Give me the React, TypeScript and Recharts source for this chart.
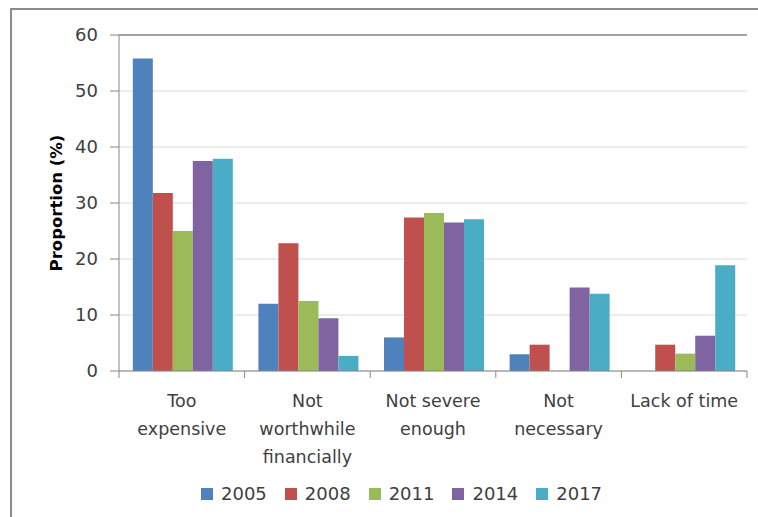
import React from "react";
import {
  BarChart,
  Bar,
  XAxis,
  YAxis,
  CartesianGrid,
  Legend,
  ReferenceLine,
} from "recharts";

const categories = [
  "Too\nexpensive",
  "Not\nworthwhile\nfinancially",
  "Not severe\nenough",
  "Not\nnecessary",
  "Lack of time",
];
const years = ["2005", "2008", "2011", "2014", "2017"];
const v2005 = [55.8, 12.0, 6.0, 3.0, null];
const v2008 = [31.8, 22.8, 27.4, 4.7, 4.7];
const v2011 = [25.0, 12.5, 28.2, null, 3.1];
const v2014 = [37.5, 9.4, 26.5, 14.9, 6.3];
const v2017 = [37.9, 2.7, 27.1, 13.8, 18.9];
const yTicks = [0, 10, 20, 30, 40, 50, 60];

const colors = ["#4F81BD", "#C0504D", "#9BBB59", "#8064A2", "#4BACC6"];
const seriesValues = [v2005, v2008, v2011, v2014, v2017];

const data = categories.map((c, i) => {
  const row: Record<string, any> = { name: c };
  years.forEach((y, j) => {
    row[y] = seriesValues[j][i];
  });
  return row;
});

const W = 758;
const H = 517;
const M = { top: 35, right: 11, left: 0, bottom: 46 };
const Y_W = 119;
const BAND = (W - M.left - M.right - Y_W) / categories.length;
const FONT = "'DejaVu Sans', sans-serif";
const TEXT = "#404040";
const AXIS = "#868686";

function CategoryTick(props: any) {
  const { x, y, payload, index } = props;
  const lines = String(payload.value).split("\n");
  return (
    <g>
      <line x1={x - BAND / 2} x2={x - BAND / 2} y1={y} y2={y + 7} stroke={AXIS} />
      {index === categories.length - 1 && (
        <line x1={x + BAND / 2} x2={x + BAND / 2} y1={y} y2={y + 7} stroke={AXIS} />
      )}
      <text
        x={x}
        y={y + 36}
        textAnchor="middle"
        fill={TEXT}
        fontSize={17.5}
        fontFamily={FONT}
      >
        {lines.map((l, i) => (
          <tspan key={i} x={x} dy={i === 0 ? 0 : 28}>
            {l}
          </tspan>
        ))}
      </text>
    </g>
  );
}

function YLabel(props: any) {
  const { viewBox } = props;
  const cx = viewBox.x + 56;
  const cy = viewBox.y + viewBox.height / 2;
  return (
    <text
      x={cx}
      y={cy}
      transform={`rotate(-90 ${cx} ${cy})`}
      textAnchor="middle"
      dominantBaseline="central"
      fill="#000"
      fontWeight="bold"
      fontSize={16.5}
      fontFamily={FONT}
    >
      Proportion (%)
    </text>
  );
}

function LegendContent(props: any) {
  const { payload } = props;
  return (
    <div style={{ display: "flex", fontFamily: FONT, fontSize: 18, color: TEXT }}>
      {(payload || []).map((p: any) => (
        <div
          key={p.value}
          style={{ display: "flex", alignItems: "center", marginRight: 18 }}
        >
          <span
            style={{
              display: "inline-block",
              width: 12,
              height: 12,
              background: p.color,
              marginRight: 8,
            }}
          />
          <span>{p.value}</span>
        </div>
      ))}
    </div>
  );
}

export default function App() {
  return (
    <div
      style={{
        position: "absolute",
        left: 0,
        top: 0,
        width: W,
        height: H,
        overflow: "hidden",
        background: "#fff",
      }}
    >
      <div
        style={{
          position: "absolute",
          left: 10,
          top: 8,
          width: 820,
          height: 600,
          border: "2px solid #8a8a8a",
        }}
      />
      <div style={{ position: "absolute", left: 0, top: 0 }}>
        <BarChart
          width={W}
          height={H}
          data={data}
          margin={M}
          barCategoryGap="11%"
          barGap={0}
        >
          <CartesianGrid vertical={false} stroke="#d9d9d9" />
          <XAxis
            dataKey="name"
            interval={0}
            height={100}
            axisLine={{ stroke: AXIS }}
            tickLine={false}
            tickSize={0}
            tickMargin={0}
            tick={<CategoryTick />}
          />
          <YAxis
            width={Y_W}
            domain={[0, 60]}
            ticks={yTicks}
            interval={0}
            axisLine={{ stroke: AXIS }}
            tickLine={{ stroke: AXIS }}
            tickSize={9}
            tickMargin={12}
            tick={{ fill: TEXT, fontSize: 18, fontFamily: FONT }}
            label={<YLabel />}
          />
          <YAxis
            yAxisId="r"
            orientation="right"
            width={0}
            domain={[0, 60]}
            tick={false}
            tickLine={false}
            axisLine={{ stroke: "#8a8a8a", strokeWidth: 1.5 }}
          />
          <ReferenceLine y={60} stroke="#8a8a8a" strokeWidth={1.5} />
          <Legend
            layout="vertical"
            verticalAlign="middle"
            align="center"
            content={<LegendContent />}
            wrapperStyle={{ position: "absolute", left: 201, top: 483, width: 500 }}
          />
          {years.map((y, j) => (
            <Bar
              key={y}
              dataKey={y}
              fill={colors[j]}
              isAnimationActive={false}
            />
          ))}
        </BarChart>
      </div>
    </div>
  );
}
